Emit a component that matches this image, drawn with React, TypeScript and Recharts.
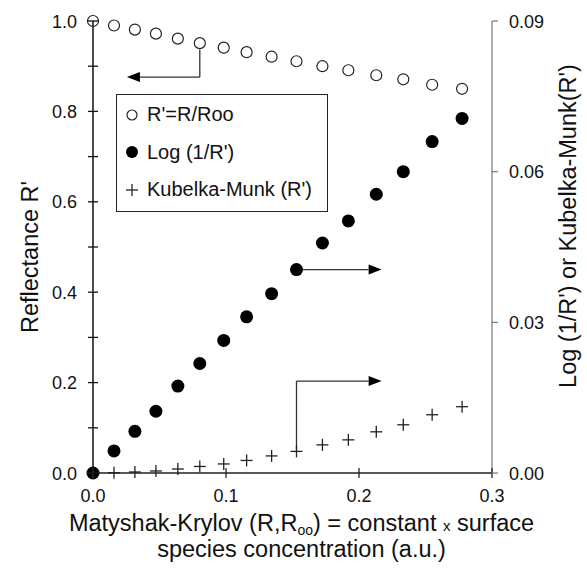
import { ScatterChart, Scatter, XAxis, YAxis, ReferenceLine, Legend } from "recharts";

// Matyshak-Krylov function values (x axis)
const conc = [0, 0.0158, 0.0315, 0.0473, 0.0638, 0.0803, 0.0983, 0.1155, 0.1343, 0.153, 0.1725, 0.192, 0.213, 0.2333, 0.255, 0.2775];
// R' = R/Roo, left axis
const reflectance = [1.0, 0.99, 0.981, 0.972, 0.961, 0.951, 0.941, 0.931, 0.921, 0.911, 0.9, 0.891, 0.88, 0.871, 0.859, 0.85];
// right axis
const logInv = [0, 0.0044, 0.0083, 0.0123, 0.0173, 0.0218, 0.0264, 0.0311, 0.0357, 0.0405, 0.0458, 0.0502, 0.0555, 0.06, 0.066, 0.0706];
const kubelkaMunk = [0, 0.00005, 0.0002, 0.0004, 0.0008, 0.0013, 0.0018, 0.0025, 0.0034, 0.0043, 0.0056, 0.0066, 0.0082, 0.0096, 0.0116, 0.0132];

const xTicks = [0, 0.1, 0.2, 0.3];
const leftTicks = [0, 0.1, 0.2, 0.3, 0.4, 0.5, 0.6, 0.7, 0.8, 0.9, 1.0];
const rightTicks = [0, 0.03, 0.06, 0.09];

const legendItems = ["R'=R/Roo", "Log (1/R')", "Kubelka-Munk (R')"];

const FONT = '"Liberation Sans", Arial, sans-serif';

const toPoints = (ys: number[]) => conc.map((x, i) => ({ x, y: ys[i] }));

const OpenDot = (p: any) => <circle cx={p.cx} cy={p.cy} r={5.5} fill="none" stroke="#222" strokeWidth={1.2} />;
const FilledDot = (p: any) => <circle cx={p.cx} cy={p.cy} r={6.5} fill="#000" />;
const PlusMark = (p: any) => (
  <g stroke="#222" strokeWidth={1.3}>
    <line x1={p.cx - 6} x2={p.cx + 6} y1={p.cy} y2={p.cy} />
    <line x1={p.cx} x2={p.cx} y1={p.cy - 6} y2={p.cy + 6} />
  </g>
);

const LeftTick = ({ x, y, payload }: any) => {
  const major = Math.round(payload.value * 10) % 2 === 0;
  return (
    <g>
      <line x1={x - 5} x2={x + 5} y1={y} y2={y} stroke="#111" strokeWidth={1.3} />
      {major && (
        <text x={x - 16} y={y} dy={6.5} textAnchor="end" fontSize={18} fill="#111" fontFamily={FONT}>
          {payload.value.toFixed(1)}
        </text>
      )}
    </g>
  );
};

const RightTick = ({ x, y, payload }: any) => (
  <g>
    <line x1={x} x2={x + 6} y1={y} y2={y} stroke="#777" strokeWidth={1.2} />
    <text x={x + 17} y={y} dy={6.5} textAnchor="start" fontSize={18} fill="#111" fontFamily={FONT}>
      {payload.value.toFixed(2)}
    </text>
  </g>
);

const BottomTick = ({ x, y, payload }: any) => (
  <g>
    <line x1={x} x2={x} y1={y - 5} y2={y + 5} stroke="#222" strokeWidth={1.3} />
    <text x={x} y={y + 29} textAnchor="middle" fontSize={18} fill="#111" fontFamily={FONT}>
      {payload.value.toFixed(1)}
    </text>
  </g>
);

// arrow segment with optional head at the end point
const arrow = (head: boolean) => (p: any) => {
  const { x1, y1, x2, y2 } = p;
  const dx = x2 - x1;
  const dy = y2 - y1;
  const len = Math.sqrt(dx * dx + dy * dy) || 1;
  const ux = dx / len;
  const uy = dy / len;
  const hl = 13;
  const hw = 5;
  const bx = x2 - ux * hl;
  const by = y2 - uy * hl;
  return (
    <g>
      <line x1={x1} y1={y1} x2={head ? bx : x2} y2={head ? by : y2} stroke="#333" strokeWidth={1.3} />
      {head && (
        <polygon
          points={`${x2},${y2} ${bx - uy * hw},${by + ux * hw} ${bx + uy * hw},${by - ux * hw}`}
          fill="#000"
        />
      )}
    </g>
  );
};

const LegendBox = () => (
  <div
    style={{
      border: "1.5px solid #222",
      width: 212,
      height: 118,
      boxSizing: "border-box",
      padding: "1px 0 0 7px",
      fontFamily: FONT,
      fontSize: 20,
      color: "#111",
      background: "#fff",
    }}
  >
    {legendItems.map((name, i) => (
      <div key={name} style={{ height: 37.5, display: "flex", alignItems: "center" }}>
        <svg width={16} height={16}>
          {i === 0 && <circle cx={8} cy={8} r={5} fill="none" stroke="#222" strokeWidth={1.2} />}
          {i === 1 && <circle cx={8} cy={8} r={6} fill="#000" />}
          {i === 2 && (
            <g stroke="#222" strokeWidth={1.3}>
              <line x1={2} x2={14} y1={8} y2={8} />
              <line x1={8} x2={8} y1={2} y2={14} />
            </g>
          )}
        </svg>
        <span style={{ marginLeft: 7 }}>{name}</span>
      </div>
    ))}
  </div>
);

const XTitle = ({ viewBox }: any) => {
  const cx = viewBox.x + viewBox.width / 2 + 9;
  return (
    <text x={cx} y={viewBox.y + 58} textAnchor="middle" fontSize={23.5} fill="#111" fontFamily={FONT}>
      <tspan x={cx}>
        Matyshak-Krylov (R,R
        <tspan fontSize={14} dy={4}>oo</tspan>
        <tspan dy={-4}>) = constant </tspan>
        <tspan fontSize={15}>x</tspan>
        <tspan> surface</tspan>
      </tspan>
      <tspan x={cx} dy={26}>species concentration (a.u.)</tspan>
    </text>
  );
};

const LeftTitle = ({ viewBox }: any) => {
  const x = viewBox.x + 30;
  const y = 257;
  return (
    <text x={x} y={y} dy={8} transform={`rotate(-90 ${x} ${y})`} textAnchor="middle" fontSize={23.5} fill="#111" fontFamily={FONT}>
      Reflectance R'
    </text>
  );
};

const RightTitle = ({ viewBox }: any) => {
  const x = viewBox.x + 76;
  const y = 226;
  return (
    <text x={x} y={y} dy={8} transform={`rotate(-90 ${x} ${y})`} textAnchor="middle" fontSize={23.5} fill="#111" fontFamily={FONT}>
      Log (1/R') or Kubelka-Munk(R')
    </text>
  );
};

export default function App() {
  return (
    <div style={{ position: "absolute", left: 0, top: 0, background: "#fff" }}>
      <ScatterChart width={587} height={570} margin={{ top: 21, right: 0, bottom: 0, left: 0 }}>
        <XAxis
          type="number"
          dataKey="x"
          domain={[0, 0.3]}
          ticks={xTicks}
          interval={0}
          tickSize={0}
          tickMargin={0}
          tickLine={false}
          tick={BottomTick}
          height={97}
          axisLine={{ stroke: "#222", strokeWidth: 1.5 }}
          label={{ content: XTitle }}
        />
        <YAxis
          yAxisId="left"
          type="number"
          dataKey="y"
          domain={[0, 1]}
          ticks={leftTicks}
          interval={0}
          tickSize={0}
          tickMargin={0}
          tickLine={false}
          tick={LeftTick}
          width={93}
          axisLine={{ stroke: "#111", strokeWidth: 1.5 }}
          label={{ content: LeftTitle }}
        />
        <YAxis
          yAxisId="right"
          orientation="right"
          type="number"
          dataKey="y"
          domain={[0, 0.09]}
          ticks={rightTicks}
          interval={0}
          tickSize={0}
          tickMargin={0}
          tickLine={false}
          tick={RightTick}
          width={95}
          axisLine={{ stroke: "#777", strokeWidth: 1.2 }}
          label={{ content: RightTitle }}
        />
        <Legend
          layout="vertical"
          align="center"
          verticalAlign="middle"
          content={LegendBox}
          wrapperStyle={{ left: 116, top: 94, width: 212, height: 118 }}
        />
        <Scatter yAxisId="left" name="R'=R/Roo" data={toPoints(reflectance)} shape={OpenDot} isAnimationActive={false} />
        <Scatter yAxisId="right" name="Log (1/R')" data={toPoints(logInv)} shape={FilledDot} isAnimationActive={false} />
        <Scatter yAxisId="right" name="Kubelka-Munk (R')" data={toPoints(kubelkaMunk)} shape={PlusMark} isAnimationActive={false} />

        <ReferenceLine yAxisId="left" segment={[{ x: 0.0803, y: 0.937 }, { x: 0.0803, y: 0.876 }]} shape={arrow(false)} />
        <ReferenceLine yAxisId="left" segment={[{ x: 0.0803, y: 0.876 }, { x: 0.0255, y: 0.876 }]} shape={arrow(true)} />
        <ReferenceLine yAxisId="right" segment={[{ x: 0.153, y: 0.0405 }, { x: 0.217, y: 0.0405 }]} shape={arrow(true)} />
        <ReferenceLine yAxisId="right" segment={[{ x: 0.153, y: 0.0046 }, { x: 0.153, y: 0.0183 }]} shape={arrow(false)} />
        <ReferenceLine yAxisId="right" segment={[{ x: 0.153, y: 0.0183 }, { x: 0.217, y: 0.0183 }]} shape={arrow(true)} />
      </ScatterChart>
    </div>
  );
}
